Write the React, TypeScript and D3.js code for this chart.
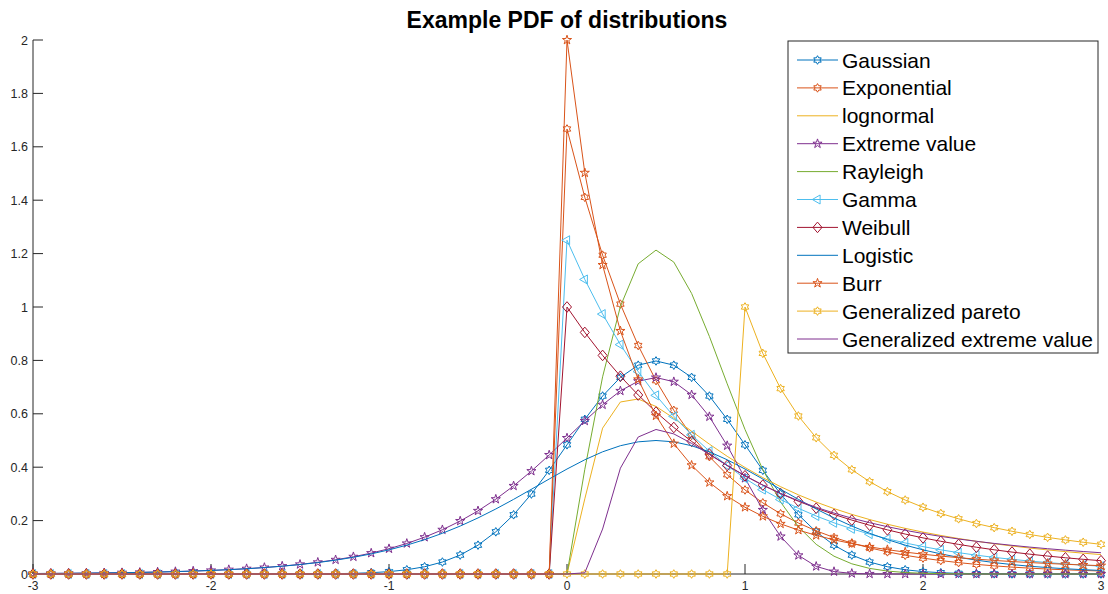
import React from 'react';
import * as d3 from 'd3';

// Sample grid: -3 : 0.1 : 3
const xValues = [
  -3, -2.9, -2.8, -2.7, -2.6, -2.5, -2.4, -2.3, -2.2, -2.1,
  -2, -1.9, -1.8, -1.7, -1.6, -1.5, -1.4, -1.3, -1.2, -1.1,
  -1, -0.9, -0.8, -0.7, -0.6, -0.5, -0.4, -0.3, -0.2, -0.1,
  0, 0.1, 0.2, 0.3, 0.4, 0.5, 0.6, 0.7, 0.8, 0.9,
  1, 1.1, 1.2, 1.3, 1.4, 1.5, 1.6, 1.7, 1.8, 1.9,
  2, 2.1, 2.2, 2.3, 2.4, 2.5, 2.6, 2.7, 2.8, 2.9,
  3,
];

const gaussian = [
  0, 0, 0, 0, 0, 0, 0, 0, 0, 0,
  0, 0, 0, 0.0001, 0.0001, 0.0003, 0.0006, 0.0012, 0.0025, 0.0048,
  0.0089, 0.0158, 0.0272, 0.0448, 0.0709, 0.108, 0.1579, 0.2218, 0.2995, 0.3884,
  0.4839, 0.5794, 0.6665, 0.7365, 0.7821, 0.7979, 0.7821, 0.7365, 0.6665, 0.5794,
  0.4839, 0.3884, 0.2995, 0.2218, 0.1579, 0.108, 0.0709, 0.0448, 0.0272, 0.0158,
  0.0089, 0.0048, 0.0025, 0.0012, 0.0006, 0.0003, 0.0001, 0.0001, 0, 0,
  0,
];

const exponential = [
  0, 0, 0, 0, 0, 0, 0, 0, 0, 0,
  0, 0, 0, 0, 0, 0, 0, 0, 0, 0,
  0, 0, 0, 0, 0, 0, 0, 0, 0, 0,
  1.6667, 1.4108, 1.1942, 1.0109, 0.8557, 0.7243, 0.6131, 0.519, 0.4393, 0.3719,
  0.3148, 0.2665, 0.2256, 0.1909, 0.1616, 0.1368, 0.1158, 0.098, 0.083, 0.0702,
  0.0595, 0.0503, 0.0426, 0.0361, 0.0305, 0.0258, 0.0219, 0.0185, 0.0157, 0.0133,
  0.0112,
];

const lognormal = [
  0, 0, 0, 0, 0, 0, 0, 0, 0, 0,
  0, 0, 0, 0, 0, 0, 0, 0, 0, 0,
  0, 0, 0, 0, 0, 0, 0, 0, 0, 0,
  0, 0.2815, 0.5463, 0.6442, 0.6554, 0.6275, 0.5836, 0.5348, 0.4864, 0.4408,
  0.3989, 0.361, 0.327, 0.2965, 0.2693, 0.245, 0.2233, 0.2039, 0.1865, 0.1709,
  0.1569, 0.1443, 0.1329, 0.1226, 0.1133, 0.1049, 0.0972, 0.0902, 0.0839, 0.078,
  0.0727,
];

const extremeValue = [
  0.0018, 0.0022, 0.0027, 0.0033, 0.0041, 0.0049, 0.006, 0.0074, 0.009, 0.011,
  0.0134, 0.0163, 0.0199, 0.0243, 0.0296, 0.036, 0.0438, 0.0532, 0.0646, 0.0783,
  0.0947, 0.1144, 0.1379, 0.1657, 0.1984, 0.2364, 0.2802, 0.33, 0.3854, 0.4457,
  0.5093, 0.5734, 0.634, 0.6858, 0.7221, 0.7358, 0.7202, 0.6711, 0.5892, 0.4807,
  0.3588, 0.24, 0.1406, 0.0699, 0.0285, 0.0091, 0.0022, 0.0004, 0, 0,
  0, 0, 0, 0, 0, 0, 0, 0, 0, 0,
  0,
];

const rayleigh = [
  0, 0, 0, 0, 0, 0, 0, 0, 0, 0,
  0, 0, 0, 0, 0, 0, 0, 0, 0, 0,
  0, 0, 0, 0, 0, 0, 0, 0, 0, 0,
  0, 0.3921, 0.7385, 1.0023, 1.1618, 1.2131, 1.1682, 1.0509, 0.8897, 0.7124,
  0.5413, 0.3912, 0.2694, 0.1771, 0.1111, 0.0667, 0.0382, 0.021, 0.011, 0.0056,
  0.0027, 0.0012, 0.0006, 0.0002, 0.0001, 0, 0, 0, 0, 0,
  0,
];

const gamma = [
  0, 0, 0, 0, 0, 0, 0, 0, 0, 0,
  0, 0, 0, 0, 0, 0, 0, 0, 0, 0,
  0, 0, 0, 0, 0, 0, 0, 0, 0, 0,
  1.25, 1.1031, 0.9735, 0.8591, 0.7582, 0.6691, 0.5905, 0.5211, 0.4598, 0.4058,
  0.3581, 0.316, 0.2789, 0.2461, 0.2172, 0.1917, 0.1692, 0.1493, 0.1318, 0.1163,
  0.1026, 0.0905, 0.0799, 0.0705, 0.0622, 0.0549, 0.0485, 0.0428, 0.0377, 0.0333,
  0.0294,
];

const weibull = [
  0, 0, 0, 0, 0, 0, 0, 0, 0, 0,
  0, 0, 0, 0, 0, 0, 0, 0, 0, 0,
  0, 0, 0, 0, 0, 0, 0, 0, 0, 0,
  1, 0.9048, 0.8187, 0.7408, 0.6703, 0.6065, 0.5488, 0.4966, 0.4493, 0.4066,
  0.3679, 0.3329, 0.3012, 0.2725, 0.2466, 0.2231, 0.2019, 0.1827, 0.1653, 0.1496,
  0.1353, 0.1225, 0.1108, 0.1003, 0.0907, 0.0821, 0.0743, 0.0672, 0.0608, 0.055,
  0.0498,
];

const logistic = [
  0.0018, 0.0022, 0.0027, 0.0033, 0.004, 0.0049, 0.006, 0.0073, 0.009, 0.0109,
  0.0133, 0.0162, 0.0197, 0.024, 0.0291, 0.0353, 0.0428, 0.0518, 0.0625, 0.0753,
  0.0904, 0.1081, 0.1287, 0.1525, 0.1796, 0.21, 0.2435, 0.2795, 0.3174, 0.3558,
  0.3932, 0.4278, 0.4576, 0.4805, 0.495, 0.5, 0.495, 0.4805, 0.4576, 0.4278,
  0.3932, 0.3558, 0.3174, 0.2795, 0.2435, 0.21, 0.1796, 0.1525, 0.1287, 0.1081,
  0.0904, 0.0753, 0.0625, 0.0518, 0.0428, 0.0353, 0.0291, 0.024, 0.0197, 0.0162,
  0.0133,
];

const burr = [
  0, 0, 0, 0, 0, 0, 0, 0, 0, 0,
  0, 0, 0, 0, 0, 0, 0, 0, 0, 0,
  0, 0, 0, 0, 0, 0, 0, 0, 0, 0,
  2, 1.5026, 1.1574, 0.9103, 0.7289, 0.5926, 0.4883, 0.4071, 0.3429, 0.2916,
  0.25, 0.216, 0.1878, 0.1644, 0.1447, 0.128, 0.1138, 0.1016, 0.0911, 0.082,
  0.0741, 0.0671, 0.061, 0.0557, 0.0509, 0.0466, 0.0429, 0.0395, 0.0364, 0.0337,
  0.0313,
];

const generalizedPareto = [
  0, 0, 0, 0, 0, 0, 0, 0, 0, 0,
  0, 0, 0, 0, 0, 0, 0, 0, 0, 0,
  0, 0, 0, 0, 0, 0, 0, 0, 0, 0,
  0, 0, 0, 0, 0, 0, 0, 0, 0, 0,
  1, 0.8264, 0.6944, 0.5917, 0.5102, 0.4444, 0.3906, 0.346, 0.3086, 0.277,
  0.25, 0.2268, 0.2066, 0.189, 0.1736, 0.16, 0.1479, 0.1372, 0.1276, 0.1189,
  0.1111,
];

const generalizedExtremeValue = [
  0, 0, 0, 0, 0, 0, 0, 0, 0, 0,
  0, 0, 0, 0, 0, 0, 0, 0, 0, 0,
  0, 0, 0, 0, 0, 0, 0, 0, 0, 0,
  0, 0.0045, 0.1684, 0.3964, 0.513, 0.5413, 0.5247, 0.4891, 0.4477, 0.4064,
  0.3679, 0.333, 0.3018, 0.2742, 0.2498, 0.2282, 0.2091, 0.1922, 0.1771, 0.1636,
  0.1516, 0.1408, 0.1311, 0.1224, 0.1145, 0.1073, 0.1007, 0.0947, 0.0892, 0.0842,
  0.0796,
];

const seriesNames = [
  'Gaussian', 'Exponential', 'lognormal', 'Extreme value', 'Rayleigh', 'Gamma',
  'Weibull', 'Logistic', 'Burr', 'Generalized pareto', 'Generalized extreme value',
];
const seriesValues = [
  gaussian, exponential, lognormal, extremeValue, rayleigh, gamma,
  weibull, logistic, burr, generalizedPareto, generalizedExtremeValue,
];
const seriesColors = [
  '#0072BD', '#D95319', '#EDB120', '#7E2F8E', '#77AC30', '#4DBEEE',
  '#A2142F', '#0072BD', '#D95319', '#EDB120', '#7E2F8E',
];
const seriesMarkers = [
  'hexagram', 'hexagram', 'none', 'pentagram', 'none', 'triangleLeft',
  'diamond', 'none', 'pentagram', 'hexagram', 'none',
];

const xTicks = [-3, -2, -1, 0, 1, 2, 3];
const xTickLabels = ['-3', '-2', '-1', '0', '1', '2', '3'];
const yTicks = [0, 0.2, 0.4, 0.6, 0.8, 1, 1.2, 1.4, 1.6, 1.8, 2];
const yTickLabels = ['0', '0.2', '0.4', '0.6', '0.8', '1', '1.2', '1.4', '1.6', '1.8', '2'];

const chartTitle = 'Example PDF of distributions';

const WIDTH = 1108;
const HEIGHT = 594;
const FONT = '"Liberation Sans", Arial, Helvetica, sans-serif';
const AXIS_COLOR = '#262626';

// Star-shaped symbol with n points; size is the squared outer radius.
function starType(n: number, innerRatio: number) {
  return {
    draw(ctx: any, size: number) {
      const R = Math.sqrt(size);
      const r = R * innerRatio;
      for (let k = 0; k < 2 * n; k++) {
        const a = -Math.PI / 2 + (k * Math.PI) / n;
        const rad = k % 2 === 0 ? R : r;
        const px = rad * Math.cos(a);
        const py = rad * Math.sin(a);
        if (k === 0) ctx.moveTo(px, py);
        else ctx.lineTo(px, py);
      }
      ctx.closePath();
    },
  };
}

const triangleLeftType = {
  draw(ctx: any, size: number) {
    const R = Math.sqrt(size);
    ctx.moveTo(-R, 0);
    ctx.lineTo(R * 0.5, -R * 0.866);
    ctx.lineTo(R * 0.5, R * 0.866);
    ctx.closePath();
  },
};

const diamondType = {
  draw(ctx: any, size: number) {
    const R = Math.sqrt(size);
    ctx.moveTo(0, -R);
    ctx.lineTo(R * 0.85, 0);
    ctx.lineTo(0, R);
    ctx.lineTo(-R * 0.85, 0);
    ctx.closePath();
  },
};

const markerSymbols: Record<string, { type: any; radius: number }> = {
  hexagram: { type: starType(6, 1 / Math.sqrt(3)), radius: 4.3 },
  pentagram: { type: starType(5, 0.382), radius: 4.8 },
  triangleLeft: { type: triangleLeftType, radius: 5.2 },
  diamond: { type: diamondType, radius: 5.3 },
};

function markerPath(kind: string): string | null {
  const m = markerSymbols[kind];
  if (!m) return null;
  return d3.symbol().type(m.type).size(m.radius * m.radius)() as string;
}

export default function App() {
  const x = d3.scaleLinear().domain([-3, 3]).range([33, 1101]);
  const y = d3.scaleLinear().domain([0, 2]).range([574, 40]);

  const line = d3
    .line<number>()
    .x((_, i) => x(xValues[i]))
    .y((v) => y(v));

  const tickLen = 10;

  // Legend layout
  const legX = 788;
  const legY = 41;
  const legW = 310;
  const legH = 312;
  const rowY0 = 60;
  const rowStep = 27.9;

  return (
    <svg
      width={WIDTH}
      height={HEIGHT}
      viewBox={`0 0 ${WIDTH} ${HEIGHT}`}
      style={{ position: 'absolute', left: 0, top: 0, background: '#fff' }}
      fontFamily={FONT}
    >
      <rect x={0} y={0} width={WIDTH} height={HEIGHT} fill="#fff" />

      {/* title */}
      <text
        x={567}
        y={28}
        textAnchor="middle"
        fontSize={23}
        fontWeight="bold"
        fill="#000"
      >
        {chartTitle}
      </text>

      {/* axes */}
      <g stroke={AXIS_COLOR} strokeWidth={1} fill="none">
        <line x1={x(-3)} x2={x(3)} y1={y(0)} y2={y(0)} />
        <line x1={x(-3)} x2={x(-3)} y1={y(0)} y2={y(2)} />
        {xTicks.map((t) => (
          <line key={`xt${t}`} x1={x(t)} x2={x(t)} y1={y(0)} y2={y(0) - tickLen} />
        ))}
        {yTicks.map((t) => (
          <line key={`yt${t}`} x1={x(-3)} x2={x(-3) + tickLen} y1={y(t)} y2={y(t)} />
        ))}
      </g>
      <g fill={AXIS_COLOR} fontSize={12}>
        {xTicks.map((t, i) => (
          <text key={`xl${t}`} x={x(t)} y={y(0) + 16} textAnchor="middle">
            {xTickLabels[i]}
          </text>
        ))}
        {yTicks.map((t, i) => (
          <text key={`yl${t}`} x={x(-3) - 5} y={y(t) + 4.5} textAnchor="end" fontSize={12.5}>
            {yTickLabels[i]}
          </text>
        ))}
      </g>

      {/* series */}
      {seriesValues.map((vals, s) => {
        const mp = markerPath(seriesMarkers[s]);
        return (
          <g key={`s${s}`}>
            <path d={line(vals) as string} fill="none" stroke={seriesColors[s]} strokeWidth={1} />
            {mp &&
              vals.map((v, i) => (
                <path
                  key={i}
                  d={mp}
                  transform={`translate(${x(xValues[i])},${y(v)})`}
                  fill="none"
                  stroke={seriesColors[s]}
                  strokeWidth={1}
                />
              ))}
          </g>
        );
      })}

      {/* legend */}
      <g>
        <rect x={legX} y={legY} width={legW} height={legH} fill="#fff" stroke={AXIS_COLOR} strokeWidth={1} />
        {seriesNames.map((name, s) => {
          const cy = rowY0 + s * rowStep;
          const mp = markerPath(seriesMarkers[s]);
          return (
            <g key={`lg${s}`}>
              <line x1={797} x2={838} y1={cy} y2={cy} stroke={seriesColors[s]} strokeWidth={1} />
              {mp && (
                <path
                  d={mp}
                  transform={`translate(817.5,${cy})`}
                  fill="none"
                  stroke={seriesColors[s]}
                  strokeWidth={1}
                />
              )}
              <text x={842} y={cy + 7.5} fontSize={21} fill="#000">
                {name}
              </text>
            </g>
          );
        })}
      </g>
    </svg>
  );
}
